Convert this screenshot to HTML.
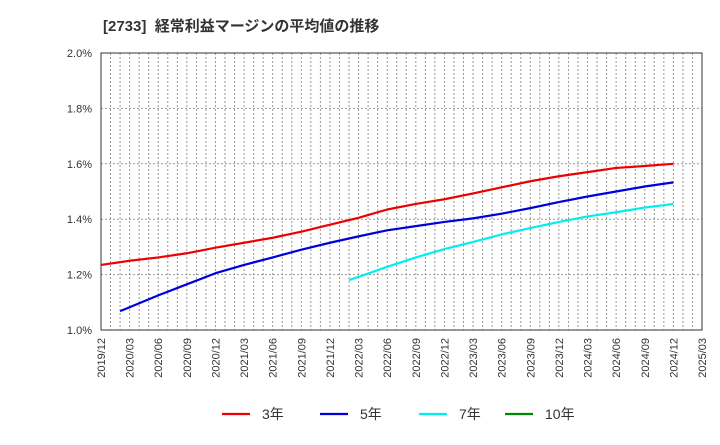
<!DOCTYPE html>
<html><head><meta charset="utf-8"><style>
body{margin:0;background:#fff;font-family:"Liberation Sans","Noto Sans CJK JP",sans-serif;}
</style></head><body>
<svg width="720" height="440" xmlns="http://www.w3.org/2000/svg">
<text x="103" y="31" font-size="15" font-weight="bold" fill="#333" xml:space="preserve" font-family="Liberation Sans,Noto Sans CJK JP,sans-serif">[2733]&#160;&#160;経常利益マージンの平均値の推移</text>
<g id="grid"></g><g id="axes"></g><g id="series"></g><g id="legend"></g>
</svg>
<script>
const xLabels=["2019/12","2020/03","2020/06","2020/09","2020/12","2021/03","2021/06","2021/09","2021/12","2022/03","2022/06","2022/09","2022/12","2023/03","2023/06","2023/09","2023/12","2024/03","2024/06","2024/09","2024/12","2025/03"];
const yTicks=[1.0,1.2,1.4,1.6,1.8,2.0];
const m3=[0,3,6,9,12,15,18,21,24,27,30,33,36,39,42,45,48,51,54,57,60];
const v3=[1.235,1.25,1.262,1.277,1.297,1.315,1.333,1.355,1.38,1.405,1.435,1.455,1.472,1.493,1.515,1.537,1.555,1.57,1.585,1.592,1.6];
const m5=[2,6,9,12,15,18,21,24,27,30,33,36,39,42,45,48,51,54,57,60];
const v5=[1.068,1.125,1.165,1.205,1.235,1.262,1.29,1.315,1.338,1.36,1.375,1.39,1.403,1.42,1.44,1.462,1.482,1.5,1.518,1.533];
const m7=[26,30,33,36,39,42,45,48,51,54,57,60];
const v7=[1.18,1.228,1.262,1.292,1.318,1.345,1.368,1.39,1.41,1.425,1.442,1.455];
const m10=[];const v10=[];
const L=101,R=702,T=53,B=330,NM=63,yMin=1.0,yMax=2.0;
const X=m=>L+(R-L)*m/NM, Y=v=>B-(B-T)*(v-yMin)/(yMax-yMin);
const NS="http://www.w3.org/2000/svg";
function mk(t,a,p){const e=document.createElementNS(NS,t);for(const k in a)e.setAttribute(k,a[k]);p.appendChild(e);return e;}
const grid=document.getElementById('grid'),axes=document.getElementById('axes'),ser=document.getElementById('series'),leg=document.getElementById('legend');
for(let m=1;m<NM;m++){const l=mk('line',{x1:X(m),x2:X(m),y1:T,y2:B,stroke:'#999','stroke-width':1,'stroke-dasharray':'2,2'},grid);

}
yTicks.forEach(v=>{const l=mk('line',{x1:L,x2:R,y1:Y(v),y2:Y(v),stroke:'#999','stroke-dasharray':'2,2'},grid);


const t=mk('text',{x:L-9,y:Y(v)+4,'text-anchor':'end','font-size':11,fill:'#333'},axes);t.textContent=v.toFixed(1)+'%';

});
const fr=mk('rect',{x:L,y:T,width:R-L,height:B-T,fill:'none',stroke:'#333'},axes);


xLabels.forEach((s,i)=>{const x=X(i*3);const t=mk('text',{x:0,y:0,'text-anchor':'end','font-size':11,fill:'#333',transform:`translate(${x+4},${B+8}) rotate(-90)`},axes);t.textContent=s;

});
function line(ms,vs,c,n){if(!ms.length)return;const p=mk('polyline',{points:ms.map((m,i)=>X(m)+','+Y(vs[i])).join(' '),fill:'none',stroke:c,'stroke-width':2.2,'stroke-linejoin':'round'},ser);

}
line(m3,v3,'#ee0000','series-3yr');line(m5,v5,'#0000dd','series-5yr');line(m7,v7,'#00eeee','series-7yr');line(m10,v10,'#008800','series-10yr');
[['3年','#ee0000',222],['5年','#0000dd',320],['7年','#00eeee',419],['10年','#008800',505]].forEach(([s,c,x])=>{
const g=mk('g',{},leg);


mk('line',{x1:x,x2:x+28,y1:414,y2:414,stroke:c,'stroke-width':2.2},g);
const t=mk('text',{x:x+40,y:419,'font-size':14,fill:'#333'},g);t.textContent=s;});
</script>
</body></html>
